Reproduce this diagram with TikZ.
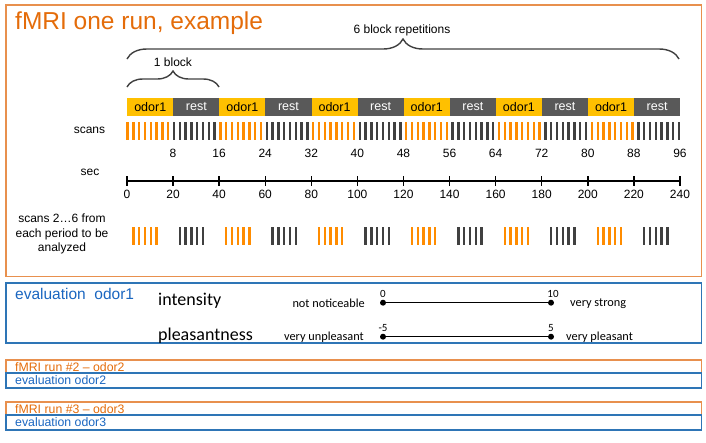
\documentclass[tikz,border=0pt]{standalone}
\usepackage{fontspec}
\setmainfont{Liberation Sans}
\newfontfamily\calibfont{Carlito}
\usetikzlibrary{positioning,calc,decorations.pathreplacing}
\definecolor{runorange}{HTML}{E46C0A}
\definecolor{frameorange}{HTML}{E8904E}
\definecolor{odoryellow}{HTML}{FFC000}
\definecolor{restgray}{HTML}{595959}
\definecolor{scanorange}{HTML}{FF8C00}
\definecolor{scangray}{HTML}{404040}
\definecolor{evalblue}{HTML}{2E75B6}
\definecolor{evaltext}{HTML}{1A66C0}
\tikzset{
  txt/.style={font=\fontsize{12}{14.5}\selectfont, inner sep=0pt},
  period/.style={minimum width=46.08pt, minimum height=17.7pt, inner sep=0pt,
    anchor=west, font=\fontsize{12.5}{14}\selectfont},
  odorbox/.style={period, fill=odoryellow, text=black},
  restbox/.style={period, fill=restgray, text=white},
  scanbar/.style={line width=2.4pt},
  bracket/.style={decorate, decoration={brace, amplitude=#1}, draw=scangray, line width=1.4pt},
  calib/.style={font=\calibfont\fontsize{#1}{#1}\selectfont, inner sep=0pt},
  ratedot/.style={circle, fill=black, inner sep=0pt, minimum size=6pt},
  runlbl/.style={font=\fontsize{12.3}{13}\selectfont, inner sep=0pt, anchor=west}
}
\begin{document}
\begin{tikzpicture}[x=1pt,y=-1pt]
\useasboundingbox (0,0) rectangle (706,442);
% Run 1 frame and title
\draw[frameorange, line width=1.4pt] (6,5) rectangle (701.7,276.7);
\node[anchor=base west, inner sep=0pt, text=runorange, font=\fontsize{24.5}{26}\selectfont] (title) at (15,29.5) {fMRI one run, example};
% Braces
\coordinate (rep0) at (127,59);
\coordinate (rep1) at (679,59);
\coordinate (blk0) at (127,87);
\coordinate (blk1) at (219,87);
\draw[bracket=20pt] (rep0) -- (rep1);
\draw[bracket=16pt] (blk0) -- (blk1);
\node[txt] (reps) at (402,30) {6 block repetitions};
\node[txt] (oneblock) at (173,62) {1 block};
% Blocks
\foreach \p in {0,...,11}{
  \ifodd\p
    \node[restbox] (period\p) at ({127+\p*46.08},106.8) {rest};
  \else
    \node[odorbox] (period\p) at ({127+\p*46.08},106.8) {odor1};
  \fi
}
% Scans
\node[txt] (scans) at (89.5,130) {scans};
\foreach \p in {0,...,11}{
  \ifodd\p \def\barcol{scangray}\else \def\barcol{scanorange}\fi
  \foreach \j in {0,...,7}
    \draw[scanbar, \barcol] ({127.5+(8*\p+\j)*5.805},122) -- ++(0,17.5);
}
\foreach \k in {1,...,12}{
  \pgfmathtruncatemacro\n{8*\k}
  \node[txt] (scan\k) at ({127+\k*46.08},153) {\n};
}
% Seconds axis
\node[txt] (sec) at (90,172) {sec};
\coordinate (ax0) at (127,181);
\coordinate (ax12) at (680,181);
\draw[line width=1.4pt] (ax0) -- (ax12);
\foreach \k in {0,...,12}{
  \pgfmathtruncatemacro\s{20*\k}
  \draw[line width=1.4pt] ({127+\k*46.08},176) -- ++(0,10);
  \node[txt] (sec\k) at ({127+\k*46.08},194.5) {\s};
}
% Analyzed scans
\node[txt, align=center] (analyzed) at (62,234) {scans 2\ldots6 from\\each period to be\\analyzed};
\foreach \p in {0,...,11}{
  \ifodd\p \def\barcol{scangray}\else \def\barcol{scanorange}\fi
  \foreach \j in {1,...,5}
    \draw[scanbar, \barcol] ({127.5+(8*\p+\j)*5.805},227) -- ++(0,17.5);
}
% Evaluation odor1
\draw[evalblue, line width=1.4pt] (6,283) rectangle (701.7,343);
\node[anchor=base west, inner sep=0pt, text=evaltext, font=\fontsize{15.5}{17}\selectfont] (eval1) at (15,299) {evaluation\ \ odor1};
\node[calib=18, anchor=base west] (intensity) at (158,305) {intensity};
\node[calib=18, anchor=base west] (pleasant) at (158,340) {pleasantness};
\node[ratedot] (int0) at (383,302.7) {};
\node[ratedot] (int10) at (551,302.7) {};
\node[ratedot] (ple0) at (383,336.7) {};
\node[ratedot] (ple10) at (551,336.7) {};
\draw[line width=1.4pt] (int0) -- (int10);
\draw[line width=1.4pt] (ple0) -- (ple10);
\node[calib=11, above=2pt of int0] (intmin) {0};
\node[calib=11, above=2pt of int10, xshift=2pt] (intmax) {10};
\node[calib=11, above=2pt of ple0] (plemin) {-5};
\node[calib=11, above=2pt of ple10] (plemax) {5};
\node[calib=12.3, anchor=base east] (notnotice) at (365,307) {not noticeable};
\node[calib=12.3, anchor=base east] (unpleasant) at (364,340) {very unpleasant};
\node[calib=12.3, anchor=base west] (strong) at (570,306.7) {very strong};
\node[calib=12.3, anchor=base west] (verypleasant) at (566,340) {very pleasant};
% Runs 2 and 3
\foreach \r/\y in {2/360, 3/402}{
  \draw[frameorange, line width=1.4pt] (6,\y) rectangle (701.7,{\y+13});
  \draw[evalblue, line width=1.4pt] (6,{\y+13}) rectangle (701.7,{\y+28});
  \node[runlbl, text=runorange] (run\r) at (15,{\y+6.8}) {fMRI run \#\r{} -- odor\r};
  \node[runlbl, text=evaltext] (eval\r) at (15,{\y+20.5}) {evaluation odor\r};
}
\end{tikzpicture}
\end{document}
